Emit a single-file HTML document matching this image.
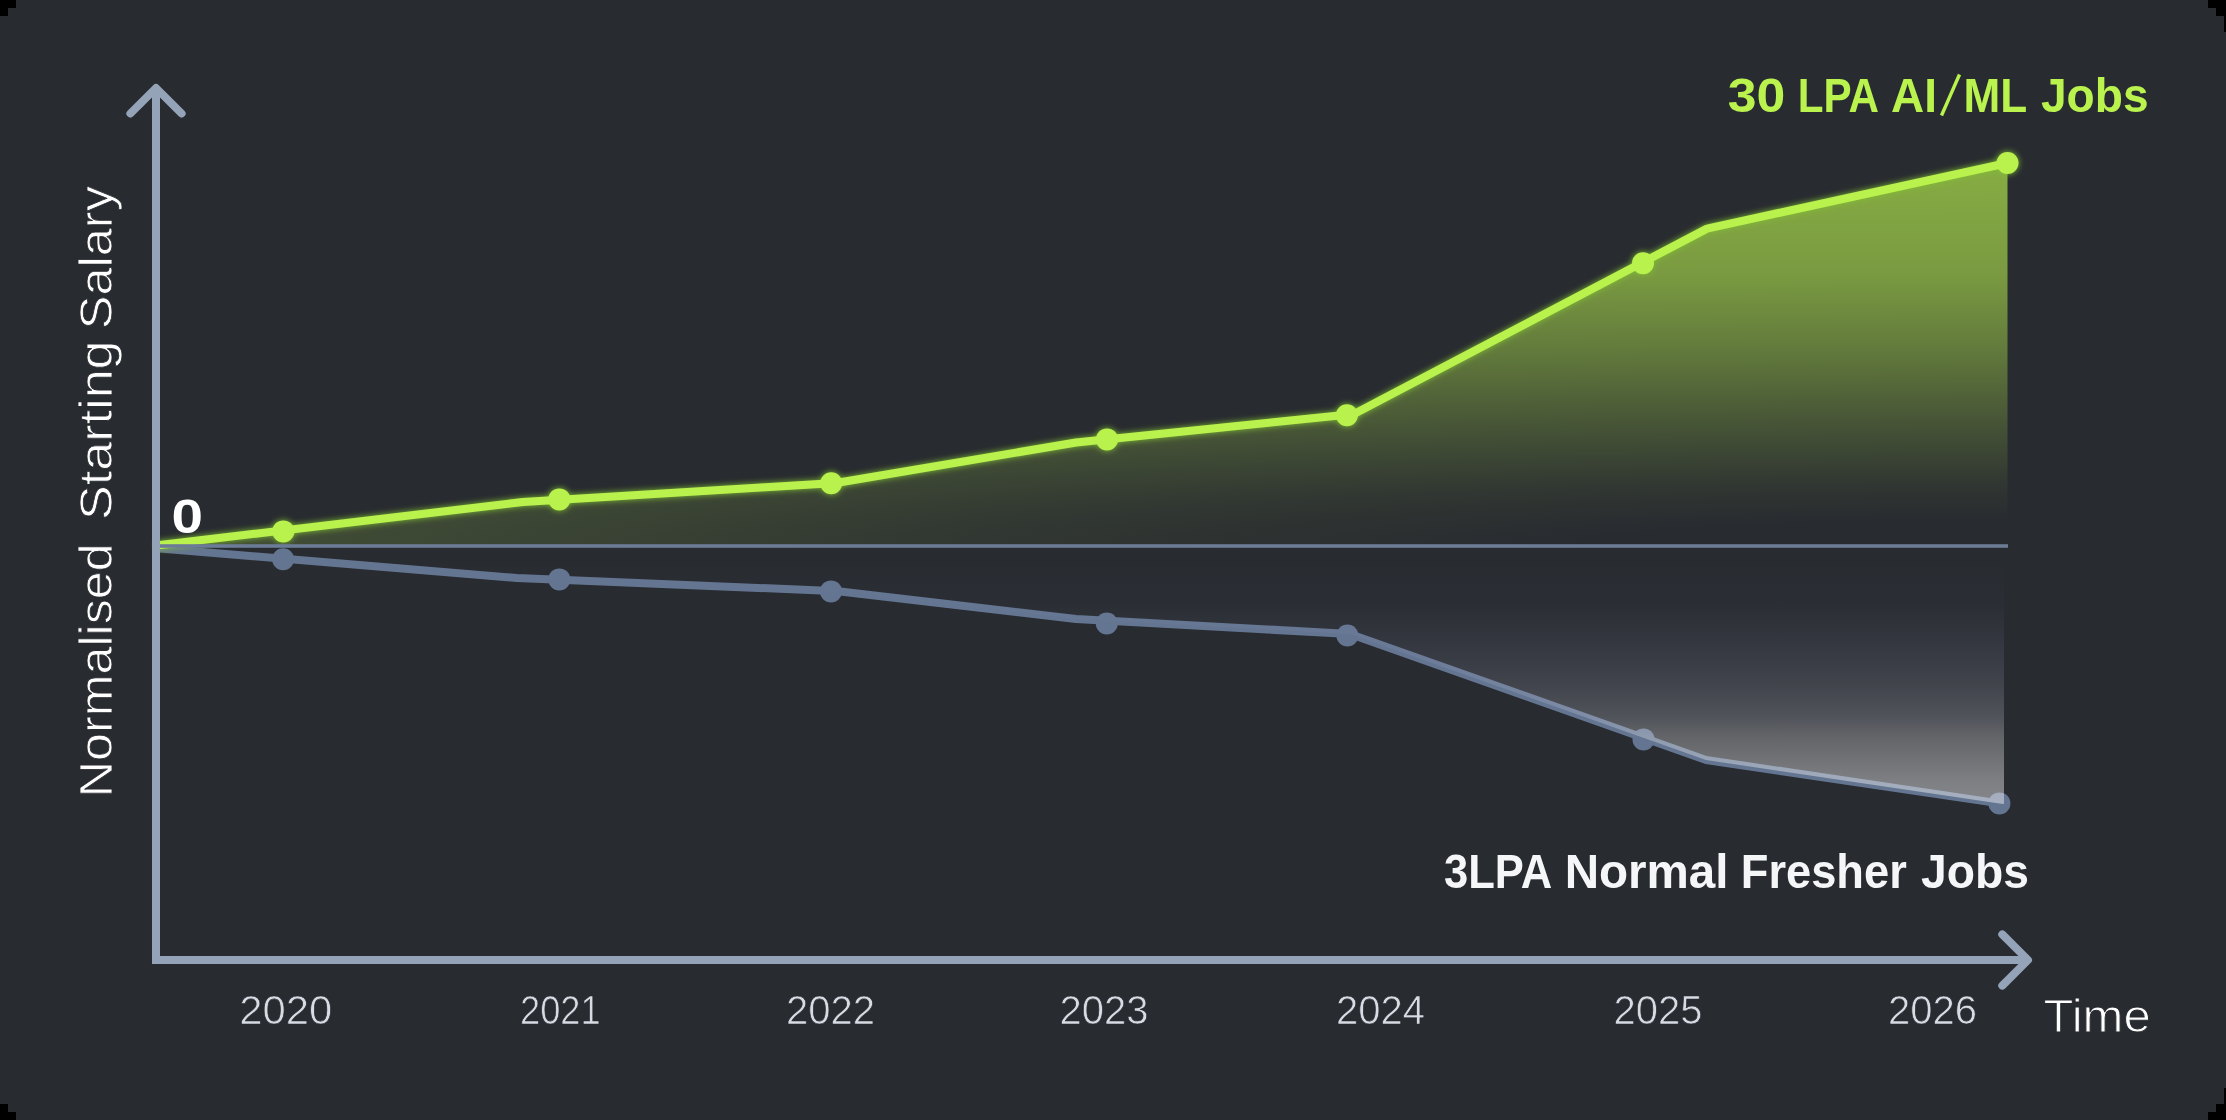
<!DOCTYPE html>
<html>
<head>
<meta charset="utf-8">
<style>
html,body{margin:0;padding:0;background:#000;}
body{width:2226px;height:1120px;overflow:hidden;position:relative;}
svg{position:absolute;left:0;top:0;display:block;will-change:transform;}
text{font-family:"Liberation Sans",sans-serif;}
</style>
</head>
<body>
<svg width="2226" height="1120" viewBox="0 0 2226 1120">
<defs>
  <radialGradient id="gg" gradientUnits="userSpaceOnUse" cx="2007.5" cy="546" r="383" gradientTransform="translate(2007.5 546) scale(16.5 1) translate(-2007.5 -546)">
    <stop offset="0.0000" stop-color="#BAF24E" stop-opacity="0.000"/>
    <stop offset="0.0653" stop-color="#BAF24E" stop-opacity="0.000"/>
    <stop offset="0.1645" stop-color="#BAF24E" stop-opacity="0.060"/>
    <stop offset="0.3446" stop-color="#BAF24E" stop-opacity="0.230"/>
    <stop offset="0.5274" stop-color="#BAF24E" stop-opacity="0.410"/>
    <stop offset="0.7102" stop-color="#BAF24E" stop-opacity="0.560"/>
    <stop offset="0.9295" stop-color="#BAF24E" stop-opacity="0.630"/>
    <stop offset="1.0000" stop-color="#BAF24E" stop-opacity="0.650"/>
  </radialGradient>
  <linearGradient id="gw" gradientUnits="userSpaceOnUse" x1="0" y1="560" x2="0" y2="804">
    <stop offset="0.0000" stop-color="#8090C0" stop-opacity="0.000"/>
    <stop offset="0.1803" stop-color="#8090C0" stop-opacity="0.030"/>
    <stop offset="0.3770" stop-color="#A0A6C6" stop-opacity="0.120"/>
    <stop offset="0.5123" stop-color="#C6CAE0" stop-opacity="0.160"/>
    <stop offset="0.6434" stop-color="#EBEBFA" stop-opacity="0.210"/>
    <stop offset="0.7213" stop-color="#FFFFFF" stop-opacity="0.270"/>
    <stop offset="0.9098" stop-color="#FFFFFF" stop-opacity="0.400"/>
    <stop offset="1.0000" stop-color="#FFFFFF" stop-opacity="0.430"/>
  </linearGradient>
  <filter id="glow" x="-5%" y="-20%" width="110%" height="140%">
    <feGaussianBlur in="SourceAlpha" stdDeviation="3" result="b"/>
    <feFlood flood-color="#80C030" flood-opacity="1"/>
    <feComposite operator="in" in2="b" result="g"/>
    <feMerge><feMergeNode in="g"/><feMergeNode in="SourceGraphic"/></feMerge>
  </filter>
</defs>
<!-- card background -->
<rect x="0" y="0" width="2226" height="1120" fill="#282B30"/>

<!-- green fill -->
<polygon fill="url(#gg)" points="160,545 523,502 836,483 1076,442.5 1354,414 1707,228.6 2007.5,163 2007.5,546 160,546"/>

<!-- gray line -->
<g fill="#647591">
<polyline fill="none" stroke="#647591" stroke-width="8" stroke-linejoin="round" stroke-linecap="round" points="160,548.5 517,578 838,591.2 1076,619 1350,634 1706,760 1999.4,803.4"/>
<circle cx="283.1" cy="559.3" r="11"/>
<circle cx="559.3" cy="579.4" r="11"/>
<circle cx="831" cy="591.4" r="11"/>
<circle cx="1106.8" cy="623.5" r="11"/>
<circle cx="1347.4" cy="635.5" r="11"/>
<circle cx="1643.5" cy="739.4" r="11"/>
<circle cx="1999.4" cy="803.4" r="11"/>
</g>
<!-- gray fill (overlay) -->
<polygon fill="url(#gw)" points="160,548.5 517,578 838,591.2 1076,619 1350,634 1706,760 1999.4,803.4 2004,804 2004,546"/>

<!-- green line -->
<g filter="url(#glow)" fill="#BAF24E">
<polyline fill="none" stroke="#BAF24E" stroke-width="8" stroke-linejoin="round" stroke-linecap="round" points="160,545 523,502 836,483 1076,442.5 1354,414 1707,228.6 2007.5,163"/>
<circle cx="283.3" cy="531.4" r="11"/>
<circle cx="559.3" cy="499.4" r="11"/>
<circle cx="831.2" cy="483.2" r="11"/>
<circle cx="1107" cy="439.4" r="11"/>
<circle cx="1346.9" cy="415.3" r="11"/>
<circle cx="1643" cy="263.3" r="11"/>
<circle cx="2007.5" cy="163" r="11"/>
</g>

<!-- zero line -->
<rect x="160" y="544.2" width="1848" height="3.6" fill="#6C7C96"/>

<!-- axes -->
<g fill="none" stroke="#94A3B8" stroke-width="8">
<path d="M156,88 L156,960 L2028,960" stroke-linejoin="miter" stroke-linecap="butt"/>
<path d="M130.4,113.5 L156,88 L181.6,113.5" stroke-linejoin="round" stroke-linecap="round"/>
<path d="M2002.3,934.4 L2028,960 L2002.3,985.6" stroke-linejoin="round" stroke-linecap="round"/>
</g>

<!-- texts -->
<g font-size="48" font-weight="bold" fill="#BAF24E" lengthAdjust="spacingAndGlyphs">
<text y="112" x="1727.82" textLength="57.50" lengthAdjust="spacingAndGlyphs">30</text>
<text y="112" x="1797.76" textLength="81.22" lengthAdjust="spacingAndGlyphs">LPA</text>
<text y="112" x="1891.04" textLength="45.89" lengthAdjust="spacingAndGlyphs">AI</text>
<text y="112" x="1963.44" textLength="63.67" lengthAdjust="spacingAndGlyphs">ML</text>
<text y="112" x="2041.00" textLength="107.53" lengthAdjust="spacingAndGlyphs">Jobs</text>
<line x1="1941.5" y1="115.5" x2="1959.5" y2="74.5" stroke="#BAF24E" stroke-width="3.4"/>
</g>
<g font-size="48" font-weight="bold" fill="#F5F6F8">
<text y="888" x="1443.99" textLength="108.11" lengthAdjust="spacingAndGlyphs">3LPA</text>
<text y="888" x="1564.63" textLength="163.88" lengthAdjust="spacingAndGlyphs">Normal</text>
<text y="888" x="1740.87" textLength="165.87" lengthAdjust="spacingAndGlyphs">Fresher</text>
<text y="888" x="1921.10" textLength="107.83" lengthAdjust="spacingAndGlyphs">Jobs</text>
</g>
<text x="171.5" y="532.5" font-size="49" font-weight="bold" fill="#FFFFFF" textLength="31.5" lengthAdjust="spacingAndGlyphs">0</text>
<g font-size="40" fill="#D7DCE4" text-anchor="middle" stroke="#282B30" stroke-width="0.7">
<text x="285.7" y="1024.3" textLength="92.9" lengthAdjust="spacingAndGlyphs">2020</text>
<text x="560.3" y="1024.3" textLength="80.6" lengthAdjust="spacingAndGlyphs">2021</text>
<text x="830.5" y="1024.3">2022</text>
<text x="1104" y="1024.3">2023</text>
<text x="1380.6" y="1024.3">2024</text>
<text x="1658" y="1024.3">2025</text>
<text x="1932.5" y="1024.3">2026</text>
</g>
<text x="2043.5" y="1031.8" font-size="46" fill="#FFFFFF" stroke="#282B30" stroke-width="1" textLength="107.2" lengthAdjust="spacingAndGlyphs">Time</text>
<g transform="translate(112,792) rotate(-90)" font-size="47" fill="#FFFFFF" stroke="#282B30" stroke-width="0.8" stroke-linejoin="round">
<text x="-5.2" y="0" textLength="253.9" lengthAdjust="spacingAndGlyphs">Normalised</text>
<text x="272" y="0" textLength="179.6" lengthAdjust="spacingAndGlyphs">Starting</text>
<text x="462.7" y="0" textLength="143.3" lengthAdjust="spacingAndGlyphs">Salary</text>
</g>

<!-- corner masks -->
<g fill="#000">
<rect x="0" y="0" width="16" height="8"/><rect x="0" y="8" width="8" height="8"/>
<rect x="2208" y="0" width="18" height="8"/><rect x="2216" y="8" width="10" height="8"/><rect x="2224" y="16" width="2" height="16"/>
<rect x="0" y="1104" width="8" height="8"/><rect x="0" y="1112" width="16" height="8"/>
<rect x="2224" y="1088" width="2" height="16"/><rect x="2216" y="1104" width="10" height="8"/><rect x="2208" y="1112" width="18" height="8"/>
</g>
</svg>
</body>
</html>
